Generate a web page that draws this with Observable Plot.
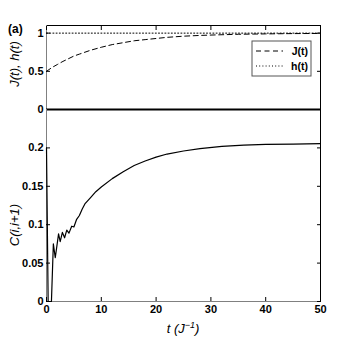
<!DOCTYPE html>
<html>
<head>
<meta charset="utf-8">
<script src="https://cdn.jsdelivr.net/npm/d3@7"></script>
<script src="https://cdn.jsdelivr.net/npm/@observablehq/plot@0.6"></script>
<style>
  html, body { margin: 0; padding: 0; background: #fff; }
  #wrap { position: relative; width: 354px; height: 339px; font-family: "Liberation Sans", Arial, sans-serif; }
  #wrap > svg, #wrap > .p { position: absolute; left: 0; }
  svg { overflow: visible; }
</style>
</head>
<body>
<div id="wrap"></div>
<script>
// ---- data ----
const tJ = [0, 1, 2, 3, 4, 5, 6, 7, 8, 10, 12, 14, 16, 18, 20, 22, 25, 28, 31, 35, 40, 45, 50];
const J  = [0.5, 0.55, 0.59, 0.63, 0.665, 0.70, 0.725, 0.75, 0.775, 0.815, 0.85, 0.875, 0.90, 0.915, 0.93, 0.945, 0.96, 0.97, 0.977, 0.985, 0.99, 0.994, 0.996];
const tH = [0, 50];
const H  = [1, 1];
const tC = [0, 0.3, 0.9, 1.25, 1.6, 2.2, 2.5, 2.9, 3.3, 3.7, 4.1, 4.6, 5.0, 5.5, 6.0, 6.5, 7.0, 8, 9, 10, 12, 14, 16, 18, 20, 22, 25, 28, 32, 36, 40, 45, 50];
const C  = [0.2, 0.0, 0.0, 0.075, 0.057, 0.088, 0.078, 0.09, 0.083, 0.093, 0.089, 0.098, 0.097, 0.107, 0.112, 0.12, 0.127, 0.135, 0.143, 0.149, 0.16, 0.169, 0.177, 0.183, 0.188, 0.192, 0.196, 0.199, 0.202, 0.2035, 0.2045, 0.205, 0.2055];
const xTicks = [0, 10, 20, 30, 40, 50];
const yTicksTop = [0, 0.5, 1];
const yTicksBot = [0, 0.05, 0.1, 0.15, 0.2];
const legendLabels = ["J(t)", "h(t)"];

const dataJ = tJ.map((t, i) => ({t, v: J[i]}));
const dataH = tH.map((t, i) => ({t, v: H[i]}));
const dataC = tC.map((t, i) => ({t, v: C[i]}));

const W = 354, ML = 46, MR = 34;
const tickFont = {fontSize: 11, fontWeight: "bold"};
const fmt = d => String(d);

const topPlot = Plot.plot({
  width: W, height: 111,
  marginLeft: ML, marginRight: MR, marginTop: 25, marginBottom: 2,
  style: {background: "transparent", fontFamily: "Liberation Sans, Arial, sans-serif", overflow: "visible"},
  x: {domain: [0, 50]},
  y: {domain: [0, 1.1]},
  marks: [
    Plot.frame({stroke: "black"}),
    Plot.ruleX([0], {stroke: "#808080"}),
    Plot.axisX(xTicks, {anchor: "top", tickSize: -4, tickFormat: () => "", label: null}),
    Plot.axisY(yTicksTop, {anchor: "left", tickSize: -4, tickPadding: 7, tickFormat: fmt, label: null, ...tickFont, fill: "black"}),
    Plot.axisY(yTicksTop, {anchor: "right", tickSize: -4, tickFormat: () => "", label: null}),
    Plot.line(dataH, {x: "t", y: "v", stroke: "black", strokeWidth: 1, strokeDasharray: "1,2.2"}),
    Plot.line(dataJ, {x: "t", y: "v", stroke: "black", strokeWidth: 1, strokeDasharray: "5,3.5"}),
    Plot.ruleY([0], {stroke: "black", strokeWidth: 2.2})
  ]
});
topPlot.style.top = "0px";
topPlot.classList.add("p");

const botPlot = Plot.plot({
  width: W, height: 230,
  marginLeft: ML, marginRight: MR, marginTop: 0, marginBottom: 38,
  style: {background: "transparent", fontFamily: "Liberation Sans, Arial, sans-serif", overflow: "visible"},
  x: {domain: [0, 50]},
  y: {domain: [0, 0.25]},
  marks: [
    Plot.frame({stroke: "black"}),
    Plot.ruleX([0], {stroke: "#808080"}),
    Plot.ruleY([0], {stroke: "#808080"}),
    Plot.axisX(xTicks, {anchor: "bottom", tickSize: -4, tickPadding: 8, tickFormat: fmt, label: null, ...tickFont, fill: "black"}),
    Plot.axisY(yTicksBot, {anchor: "left", tickSize: -4, tickPadding: 7, tickFormat: fmt, label: null, ...tickFont, fill: "black"}),
    Plot.axisY(yTicksBot, {anchor: "right", tickSize: -4, tickFormat: () => "", label: null}),
    Plot.line(dataC, {x: "t", y: "v", stroke: "black", strokeWidth: 1.2})
  ]
});
botPlot.style.top = "109px";
botPlot.classList.add("p");

const wrap = document.getElementById("wrap");
wrap.appendChild(topPlot);
wrap.appendChild(botPlot);

// overlay: panel letter, axis titles, legend
const ns = "http://www.w3.org/2000/svg";
const ov = document.createElementNS(ns, "svg");
ov.setAttribute("width", W);
ov.setAttribute("height", 339);
ov.style.position = "absolute";
ov.style.left = "0px";
ov.style.top = "0px";
ov.setAttribute("font-family", "Liberation Sans, Arial, sans-serif");
ov.innerHTML = `
  <text x="8" y="33" font-size="12" font-weight="bold">(a)</text>
  <text transform="translate(19,64) rotate(-90)" text-anchor="middle" font-size="13" font-style="italic">J(t), h(t)</text>
  <text transform="translate(19,225) rotate(-90)" text-anchor="middle" font-size="13" font-style="italic">C(i,i+1)</text>
  <text x="183" y="333" text-anchor="middle" font-size="13" font-style="italic">t (J<tspan dy="-5" font-size="9">−1</tspan><tspan dy="5">)</tspan></text>
  <rect x="252" y="41" width="59" height="35" fill="white" stroke="#555" stroke-width="1"/>
  <line x1="256" x2="283" y1="51" y2="51" stroke="black" stroke-dasharray="5,3.5"/>
  <line x1="256" x2="283" y1="66" y2="66" stroke="black" stroke-dasharray="1,2.2"/>
  <text x="308" y="55" text-anchor="end" font-size="10.5" font-weight="bold">${legendLabels[0]}</text>
  <text x="308" y="70" text-anchor="end" font-size="10.5" font-weight="bold">${legendLabels[1]}</text>
`;
wrap.appendChild(ov);
</script>
</body>
</html>
